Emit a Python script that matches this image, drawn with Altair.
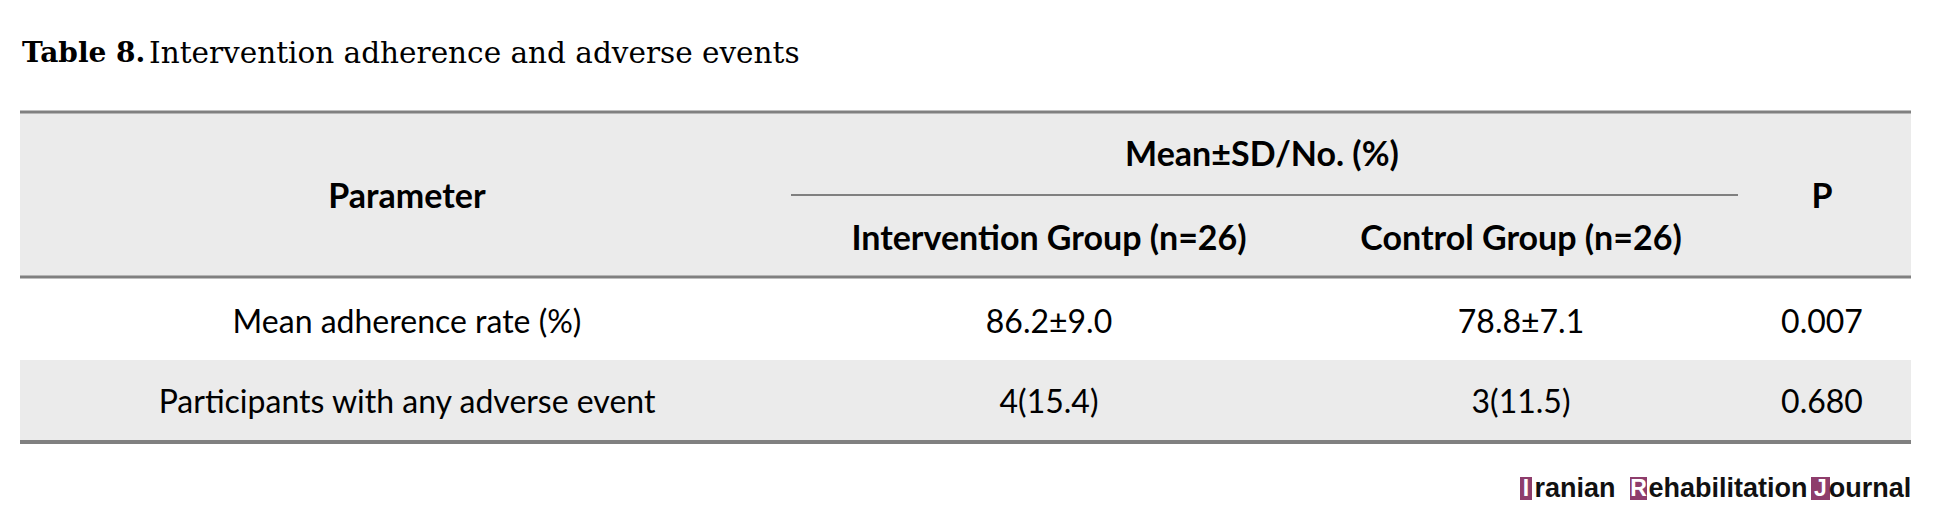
import altair as alt
import pandas as pd

# ---- content ----
title_bold = "Table 8."
title_rest = "Intervention adherence and adverse events"
group_header = "Mean±SD/No. (%)"
col_headers = ["Parameter", "Intervention Group (n=26)", "Control Group (n=26)", "P"]
parameters = ["Mean adherence rate (%)", "Participants with any adverse event"]
intervention_vals = ["86.2±9.0", "4(15.4)"]
control_vals = ["78.8±7.1", "3(11.5)"]
p_vals = ["0.007", "0.680"]
logo_caps = ["I", "R", "J"]
logo_rest = ["ranian", "ehabilitation", "ournal"]

# ---- layout (chart pixel coordinates) ----
W, H = 1931, 505
OFF = 8
L, R = 20 - OFF, 1911 - OFF
col_x = [407 - OFF, 1049 - OFF, 1521 - OFF, 1822 - OFF]
row_y = [323 - OFF, 403 - OFF]
TOP, HDR_BOT, ROW2_TOP, BOT = 112 - OFF, 277 - OFF, 360 - OFF, 442 - OFF
SUB_Y, SUB_X1, SUB_X2 = 195 - OFF, 791 - OFF, 1738 - OFF

BODY_FONT = "Lato"
GRAY_BG = "#ebebeb"
LINE = "#808080"

X = lambda f: alt.X(f, type="quantitative", scale=None, axis=None)
Y = lambda f: alt.Y(f, type="quantitative", scale=None, axis=None)

bg = pd.DataFrame({"x": [L, L], "x2": [R, R], "y": [TOP, ROW2_TOP], "y2": [HDR_BOT, BOT]})
bg_layer = alt.Chart(bg).mark_rect(color=GRAY_BG).encode(
    x=X("x"), x2="x2", y=Y("y"), y2="y2")

rules = pd.DataFrame({
    "x": [L, L, L, SUB_X1], "x2": [R, R, R, SUB_X2],
    "y": [TOP, HDR_BOT, BOT, SUB_Y], "w": [3, 3, 4, 2]})
rule_layer = alt.Chart(rules).mark_rule(color=LINE).encode(
    x=X("x"), x2="x2", y=Y("y"),
    strokeWidth=alt.StrokeWidth("w:Q", scale=None, legend=None))

hdr = pd.DataFrame({
    "t": [group_header] + col_headers,
    "x": [1262 - OFF] + col_x,
    "y": [156 - OFF, 198 - OFF, 240 - OFF, 240 - OFF, 198 - OFF]})
hdr_layer = alt.Chart(hdr).mark_text(
    font=BODY_FONT, fontWeight="bold", fontSize=34, align="center",
    baseline="middle", color="#000000").encode(x=X("x"), y=Y("y"), text="t:N")

cells = []
for i in range(len(parameters)):
    for j, v in enumerate([parameters[i], intervention_vals[i], control_vals[i], p_vals[i]]):
        cells.append({"t": v, "x": col_x[j], "y": row_y[i]})
body_layer = alt.Chart(pd.DataFrame(cells)).mark_text(
    font=BODY_FONT, fontSize=32, align="center", baseline="middle",
    color="#000000").encode(x=X("x"), y=Y("y"), text="t:N")

t1 = alt.Chart(pd.DataFrame({"t": [title_bold], "x": [22 - OFF], "y": [54 - OFF]})).mark_text(
    font="DejaVu Serif", fontWeight="bold", fontSize=28, align="left", baseline="middle",
    color="#000000").encode(x=X("x"), y=Y("y"), text="t:N")
t2 = alt.Chart(pd.DataFrame({"t": [title_rest], "x": [149 - OFF], "y": [54 - OFF]})).mark_text(
    font="DejaVu Serif", fontSize=29.5, align="left", baseline="middle",
    color="#000000").encode(x=X("x"), y=Y("y"), text="t:N")

# logo
box_x1 = [1520 - OFF, 1630 - OFF, 1811 - OFF]
box_x2 = [1532 - OFF, 1647 - OFF, 1830 - OFF]
logo_box = pd.DataFrame({"x": box_x1, "x2": box_x2,
                         "y": [477 - OFF] * 3, "y2": [500 - OFF] * 3})
logo_box_layer = alt.Chart(logo_box).mark_rect(color="#8e3d6c").encode(
    x=X("x"), x2="x2", y=Y("y"), y2="y2")
logo_caps_df = pd.DataFrame({"t": logo_caps, "x": [(a + b) / 2 for a, b in zip(box_x1, box_x2)],
                             "y": [489 - OFF] * 3})
logo_caps_layer = alt.Chart(logo_caps_df).mark_text(
    font="Liberation Sans", fontWeight="bold", fontSize=23, align="center", baseline="middle",
    color="#ffffff").encode(x=X("x"), y=Y("y"), text="t:N")
logo_rest_df = pd.DataFrame({"t": logo_rest, "x": [1575 - OFF, 1728 - OFF, 1870 - OFF],
                             "y": [489 - OFF] * 3})
logo_rest_layer = alt.Chart(logo_rest_df).mark_text(
    font="Liberation Sans", fontWeight="bold", fontSize=27, align="center", baseline="middle",
    color="#111111").encode(x=X("x"), y=Y("y"), text="t:N")

chart = alt.layer(
    bg_layer, rule_layer, hdr_layer, body_layer, t1, t2,
    logo_box_layer, logo_caps_layer, logo_rest_layer
).properties(width=W, height=H, padding=0, background="#ffffff").configure_view(stroke=None)

chart.save("out.html", embed_options={"renderer": "svg", "actions": False})
